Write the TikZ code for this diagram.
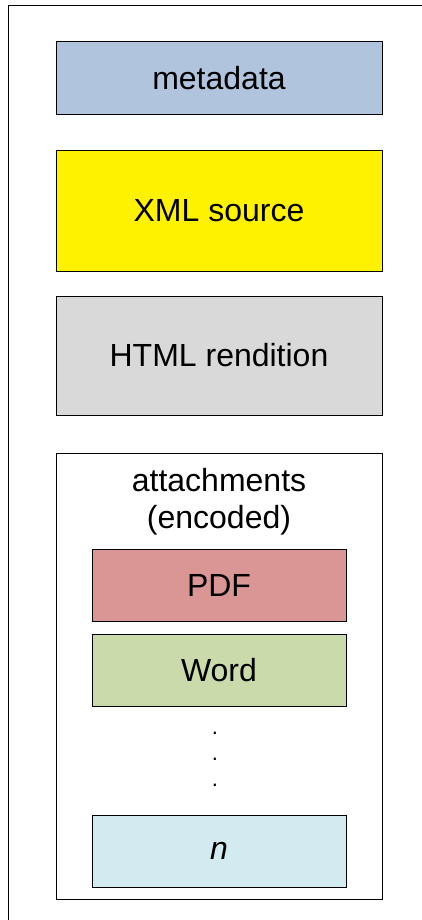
\documentclass[tikz,border=0pt]{standalone}
\usepackage{fontspec}
\setmainfont{Liberation Sans}
\usetikzlibrary{positioning}

\definecolor{metablue}{RGB}{176,196,222}
\definecolor{htmlgray}{RGB}{217,217,217}
\definecolor{pdfred}{RGB}{218,150,148}
\definecolor{wordgreen}{RGB}{203,218,170}
\definecolor{nblue}{RGB}{210,234,240}

\tikzset{
  part/.style={draw=black,line width=1pt,minimum width=326pt,inner sep=0pt,
    font=\fontsize{32}{37}\selectfont},
  attpart/.style={part,minimum width=254pt,minimum height=72pt},
  dot/.style={inner sep=0pt,font=\fontsize{22}{22}\selectfont},
}

\begin{document}
\begin{tikzpicture}[x=1pt,y=-1pt]
      \useasboundingbox (0,0) rectangle (422,920);
      \draw[line width=1pt] (422,6) -- (8,6) -- (8,920);

      \node [part,fill=metablue,minimum height=73pt] (meta) at (219,78.5) {metadata};
      \node [part,fill=yellow,minimum height=120pt,below=35pt of meta] (xml) {XML source};
      \node [part,fill=htmlgray,minimum height=119pt,below=24pt of xml] (html) {HTML rendition};
      \node [part,minimum height=446pt,below=37pt of html] (att) {};
      \node [font=\fontsize{32}{37}\selectfont,align=center] (atttext) at (219,502) {attachments\\(encoded)};

      \node [attpart,fill=pdfred] (pdf) at (219,585) {PDF};
      \node [attpart,fill=wordgreen,below=12pt of pdf] (word) {Word};
      \node [attpart,fill=nblue] (n) at (219,851) {\itshape n};

      % vertical ellipsis
      \node [dot] (dot1) at (215,733) {.};
      \node [dot] (dot2) at (215,759) {.};
      \node [dot] (dot3) at (215,785) {.};
    \end{tikzpicture}
\end{document}
